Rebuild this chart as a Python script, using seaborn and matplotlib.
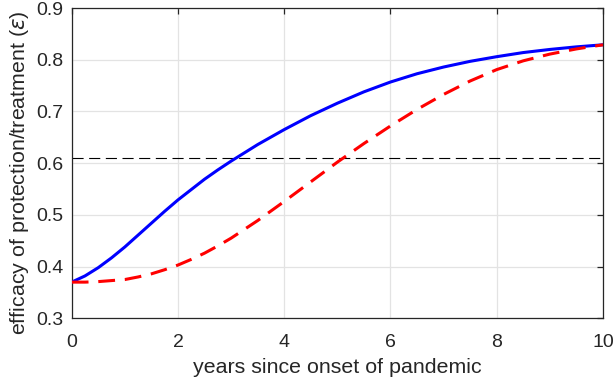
import numpy as np
import pandas as pd
import matplotlib
matplotlib.use("Agg")
import matplotlib.pyplot as plt
import seaborn as sns

years = [0, 0.25, 0.5, 0.75, 1, 1.25, 1.5, 1.75, 2, 2.25, 2.5, 2.75, 3,
         3.5, 4, 4.5, 5, 5.5, 6, 6.5, 7, 7.5, 8, 8.5, 9, 9.5, 10]
efficacy_fast = [0.370, 0.382, 0.398, 0.417, 0.438, 0.461, 0.484, 0.507, 0.529, 0.549, 0.569, 0.587, 0.604,
                 0.636, 0.665, 0.692, 0.716, 0.738, 0.757, 0.773, 0.786, 0.797, 0.806, 0.814, 0.820, 0.825, 0.829]
efficacy_slow = [0.370, 0.370, 0.371, 0.373, 0.375, 0.380, 0.386, 0.394, 0.403, 0.414, 0.426, 0.440, 0.455,
                 0.489, 0.526, 0.564, 0.602, 0.638, 0.672, 0.704, 0.733, 0.759, 0.781, 0.798, 0.811, 0.821, 0.829]
threshold = 0.61
x_ticks = [0, 2, 4, 6, 8, 10]
y_ticks = [0.3, 0.4, 0.5, 0.6, 0.7, 0.8, 0.9]

sns.set_style("whitegrid")
plt.rcParams['font.family'] = ['Liberation Sans', 'DejaVu Sans']
plt.rcParams['mathtext.fontset'] = 'dejavusans'

df = pd.DataFrame({"years": years, "fast": efficacy_fast, "slow": efficacy_slow})

fig = plt.figure(figsize=(6.14, 3.85), dpi=100)
ax = fig.add_axes([0.1168, 0.1732, 0.982 - 0.1168, 0.979 - 0.1732])

ax.axhline(threshold, color="black", lw=0.8, dashes=(10, 5), zorder=2)
sns.lineplot(data=df, x="years", y="fast", ax=ax, color="#0000ff", lw=2.2, zorder=3)
sns.lineplot(data=df, x="years", y="slow", ax=ax, color="#ff0000", lw=2.2, zorder=4,
             dashes=False)
ax.lines[-1].set_dashes((5.5, 3.2))
for ln in ax.lines:
    ln.set_solid_joinstyle("round")
    ln.set_dash_joinstyle("round")

ax.set_xlim(0, 10)
ax.set_ylim(0.3, 0.9)
ax.set_xticks(x_ticks)
ax.set_yticks(y_ticks)
ax.set_xticklabels([str(t) for t in x_ticks])
ax.set_yticklabels([f"{t:.1f}" for t in y_ticks])

ax.grid(True, color="#e3e3e3", lw=0.9)
for s in ax.spines.values():
    s.set_visible(True)
    s.set_color("#262626")
    s.set_linewidth(0.9)
ax.tick_params(axis="both", direction="in", length=4, width=0.9, color="#262626",
               labelsize=14, labelcolor="#262626", top=True, right=True,
               labeltop=False, labelright=False)
ax.tick_params(axis="y", pad=6)
ax.tick_params(axis="x", pad=11)

ax.set_xlabel("years since onset of pandemic", fontsize=15.4, color="#262626", labelpad=5)
ax.set_ylabel(r"efficacy of protection/treatment ($\epsilon$)", fontsize=15.4, color="#262626")
ax.yaxis.set_label_coords(-0.076, 0.47)

fig.savefig("out.png", dpi=100)
